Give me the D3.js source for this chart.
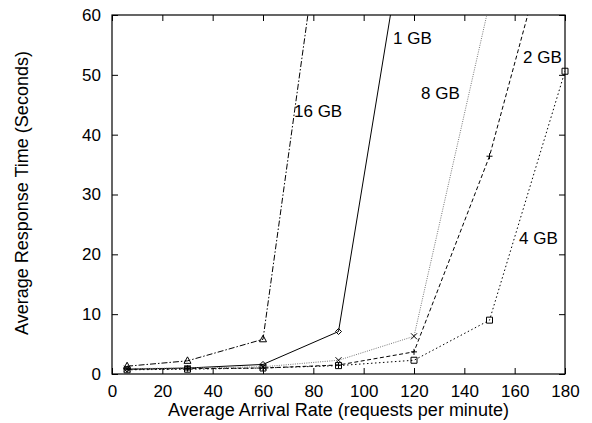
<!DOCTYPE html>
<html>
<head>
<meta charset="utf-8">
<script src="https://cdn.jsdelivr.net/npm/d3@7"></script>
<style>
html,body{margin:0;padding:0;background:#fff;}
svg text{font-family:"Liberation Sans",Arial,Helvetica,sans-serif;}
</style>
</head>
<body>
<svg id="chart" width="592" height="423"></svg>
<script>
// Data
const rates = [6, 30, 60, 90, 120, 150, 180];
const series1GB  = [0.8, 1.0, 1.6, 7.1, 84];
const series2GB  = [0.8, 0.9, 1.0, 1.5, 3.7, 36.4, 83];
const series4GB  = [0.7, 0.8, 1.0, 1.4, 2.3, 9.0, 50.6];
const series8GB  = [0.9, 1.0, 1.2, 2.3, 6.3, 62];
const series16GB = [1.3, 2.2, 5.8, 97];
const seriesNames = ["1 GB", "2 GB", "4 GB", "8 GB", "16 GB"];
const xTicks = [0, 20, 40, 60, 80, 100, 120, 140, 160, 180];
const yTicks = [0, 10, 20, 30, 40, 50, 60];
const labelPos = [
  {name:"1 GB", x:393, y:44},
  {name:"2 GB", x:523, y:63},
  {name:"4 GB", x:519, y:244},
  {name:"8 GB", x:421, y:99},
  {name:"16 GB", x:294, y:117}
];

const W = 592, H = 423;
const m = {left:112, right:27, top:15, bottom:49};
const svg = d3.select("#chart");
const x = d3.scaleLinear().domain([0,180]).range([m.left, W-m.right]);
const y = d3.scaleLinear().domain([0,60]).range([H-m.bottom, m.top]);

const styles = {
  "1 GB":  {color:"#000", dash:null, marker:"diamond"},
  "2 GB":  {color:"#000", dash:"4,2.5", marker:"plus"},
  "4 GB":  {color:"#000", dash:"1.5,2.5", marker:"square"},
  "8 GB":  {color:"#777", dash:"1,1.3", marker:"cross"},
  "16 GB": {color:"#000", dash:"6,2,1.5,2", marker:"triangle"}
};
const values = {"1 GB":series1GB, "2 GB":series2GB, "4 GB":series4GB, "8 GB":series8GB, "16 GB":series16GB};

svg.append("defs").append("clipPath").attr("id","clip")
  .append("rect").attr("x",m.left).attr("y",m.top)
  .attr("width",W-m.left-m.right).attr("height",H-m.top-m.bottom);

const fs = 17;
// Axes
const axB = d3.axisBottom(x).tickValues(xTicks).tickSize(-6).tickPadding(11);
const gB = svg.append("g").attr("transform",`translate(0,${y(0)})`).call(axB);
const axT = d3.axisTop(x).tickValues(xTicks).tickSize(-6).tickFormat("");
const gT = svg.append("g").attr("transform",`translate(0,${y(60)})`).call(axT);
const axL = d3.axisLeft(y).tickValues(yTicks).tickSize(-6).tickPadding(11);
const gL = svg.append("g").attr("transform",`translate(${x(0)},0)`).call(axL);
const axR = d3.axisRight(y).tickValues(yTicks).tickSize(-6).tickFormat("");
const gR = svg.append("g").attr("transform",`translate(${x(180)},0)`).call(axR);
[gB,gT,gL,gR].forEach(g=>{
  g.select(".domain").remove();
  g.selectAll(".tick line").attr("stroke","#000");
  g.selectAll("text").attr("font-size",fs).attr("fill","#000")
   .attr("font-family",'"Liberation Sans",Arial,sans-serif');
});
gB.selectAll(".tick text").attr("dy","0.71em");

svg.append("rect").attr("x",x(0)).attr("y",y(60))
  .attr("width",x(180)-x(0)).attr("height",y(0)-y(60))
  .attr("fill","none").attr("stroke","#000").attr("stroke-width",1.2);

// Lines
const line = d3.line().x(d=>x(d[0])).y(d=>y(d[1]));
const plot = svg.append("g").attr("clip-path","url(#clip)");
seriesNames.forEach(n=>{
  const pts = values[n].map((v,i)=>[rates[i], v]);
  const s = styles[n];
  plot.append("path").datum(pts).attr("d",line)
    .attr("fill","none").attr("stroke",s.color).attr("stroke-width",1)
    .attr("stroke-dasharray",s.dash);
});

// Markers
const mk = svg.append("g");
const r = 3;
function drawMarker(type, cx, cy){
  let p;
  if(type==="diamond") p=`M${cx},${cy-r}L${cx+r},${cy}L${cx},${cy+r}L${cx-r},${cy}Z`;
  else if(type==="square") p=`M${cx-r},${cy-r}h${2*r}v${2*r}h${-2*r}Z`;
  else if(type==="triangle") p=`M${cx},${cy-r-1}L${cx+r+0.5},${cy+r-0.5}L${cx-r-0.5},${cy+r-0.5}Z`;
  else if(type==="plus") p=`M${cx-r},${cy}H${cx+r}M${cx},${cy-r}V${cy+r}`;
  else if(type==="cross") p=`M${cx-r},${cy-r}L${cx+r},${cy+r}M${cx-r},${cy+r}L${cx+r},${cy-r}`;
  mk.append("path").attr("d",p).attr("fill","none").attr("stroke","#000").attr("stroke-width",1);
}
seriesNames.forEach(n=>{
  values[n].forEach((v,i)=>{
    if(v<=60 && rates[i]<=180) drawMarker(styles[n].marker, x(rates[i]), y(v));
  });
});

// Series labels
svg.append("g").selectAll("text").data(labelPos).join("text")
  .attr("x",d=>d.x).attr("y",d=>d.y).text(d=>d.name)
  .attr("font-size",fs).attr("fill","#000");

// Axis titles
svg.append("text").attr("x",(x(0)+x(180))/2+0).attr("y",416)
  .attr("text-anchor","middle").attr("font-size",18).text("Average Arrival Rate (requests per minute)");
svg.append("text").attr("transform",`translate(28,193) rotate(-90)`)
  .attr("text-anchor","middle").attr("font-size",18).text("Average Response Time (Seconds)");
</script>
</body>
</html>
